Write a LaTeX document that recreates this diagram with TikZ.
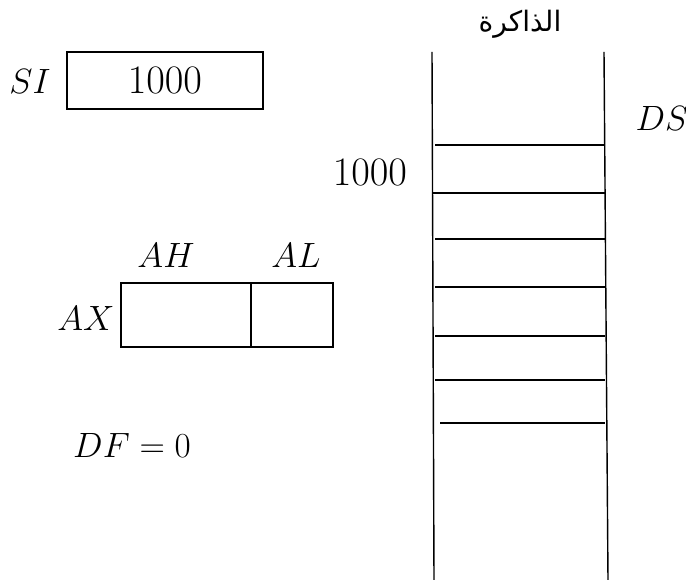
\RequirePackage{fix-cm}
\documentclass[tikz,border=0pt]{standalone}
\usepackage{fontspec}
\usepackage{amsmath}
\usetikzlibrary{positioning}
\TeXXeTstate=1
\newfontfamily\arabicfont[Script=Arabic]{DejaVu Sans}
\newcommand{\bigtxt}{\fontsize{20}{24}\selectfont}
\newcommand{\numtxt}{\fontsize{23}{27}\selectfont}

\begin{document}
\begin{tikzpicture}[x=0.02cm,y=-0.02cm,line width=0.8pt,
  regbox/.style={draw,line width=0.8pt,inner sep=0pt},
  lbl/.style={font=\bigtxt}]
\useasboundingbox (0,0) rectangle (686,580);
% ---- SI register ----
\node[regbox,minimum width=196*0.02cm,minimum height=57*0.02cm,font=\numtxt] (si) at (165,80.5) {$1000$};
\node[lbl] (silbl) at (30,81) {$SI$};
% ---- AX register (AH | AL) ----
\node[regbox,minimum width=130*0.02cm,minimum height=64*0.02cm] (ah) at (186,315) {};
\node[regbox,minimum width=82*0.02cm,minimum height=64*0.02cm,right=-0.8pt of ah] (al) {};
\node[lbl] (ahlbl) at (166,255) {$AH$};
\node[lbl] (allbl) at (296,255) {$AL$};
\node[lbl] (axlbl) at (86,318) {$AX$};
% ---- direction flag ----
\node[lbl] (df) at (132,445) {$DF=0$};
% ---- memory ----
\draw (432,52) -- (434,580);
\draw (604,52) -- (608,580);
\foreach \yy/\xl in {145/435,193/432,239/435,287/435,336/435,380/435,423/440} {
  \draw (\xl,\yy) -- (605,\yy);}
\node[font=\arabicfont\fontsize{16}{19}\selectfont] (mem) at (520,24) {\beginR الذاكرة\endR};
\node[lbl] (ds) at (662,118) {$DS$};
\node[font=\numtxt] (addr) at (370,172) {$1000$};
\end{tikzpicture}
\end{document}
